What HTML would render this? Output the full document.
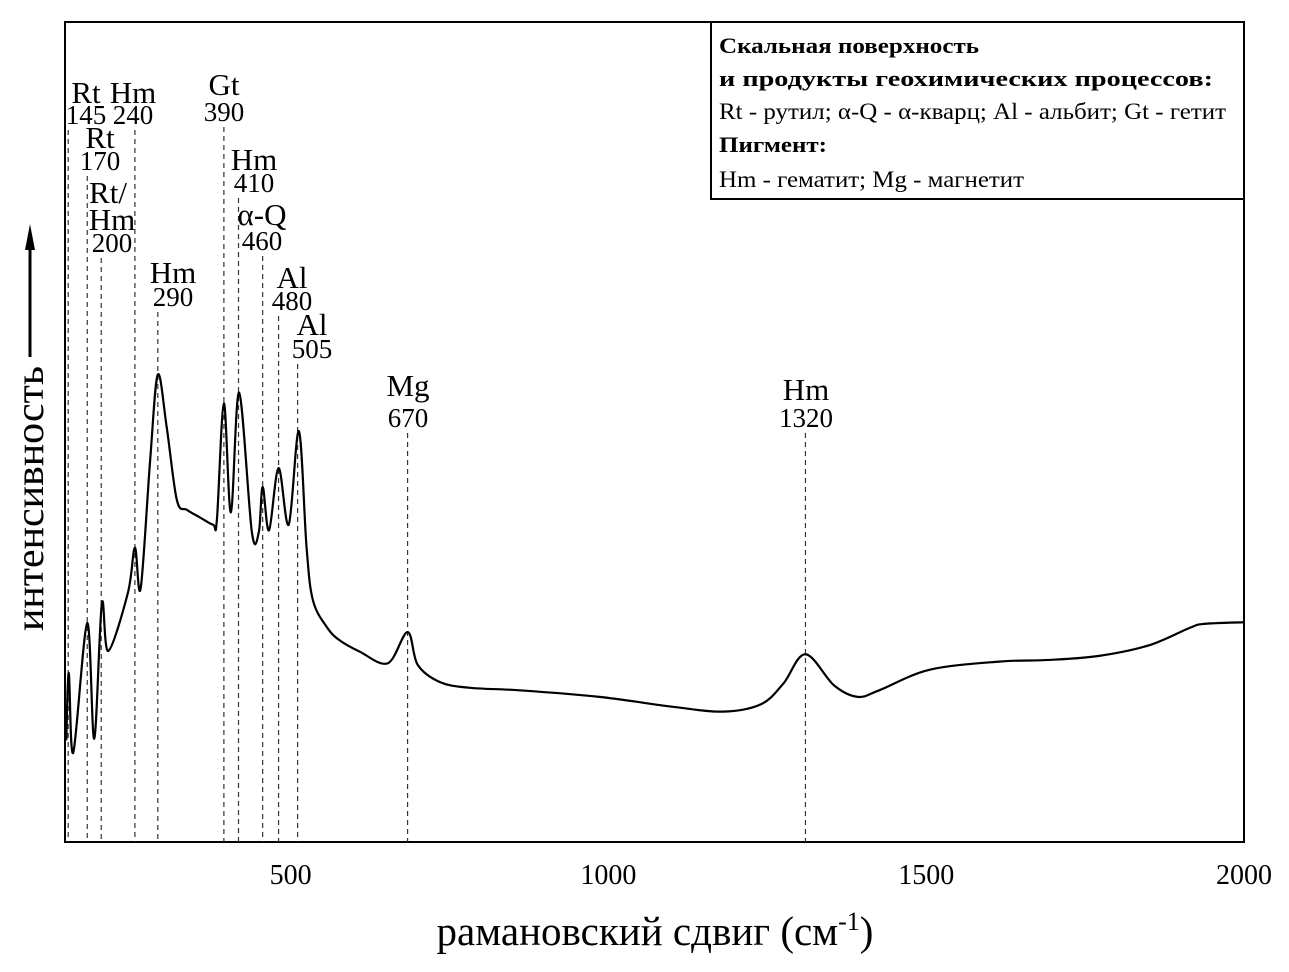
<!DOCTYPE html>
<html><head><meta charset="utf-8"><style>
body{margin:0;background:#fff}
svg{display:block;font-family:"Liberation Serif",serif}
</style></head><body>
<svg id="c" width="1289" height="972" viewBox="0 0 1289 972">
<rect x="65" y="22" width="1179" height="820" fill="none" stroke="#000" stroke-width="2"/>
<g id="ticks"></g>
<g id="guides"></g>
<path id="spec" fill="none" stroke="#000" stroke-width="2.2"/>
<g>
<rect x="711" y="22" width="533" height="177" fill="#fff" stroke="#000" stroke-width="2"/>
<text x="719" y="53" font-size="22" font-weight="bold" textLength="260" lengthAdjust="spacingAndGlyphs">Скальная поверхность</text>
<text x="719" y="86" font-size="22" font-weight="bold" textLength="494" lengthAdjust="spacingAndGlyphs">и продукты геохимических процессов:</text>
<text x="719" y="119" font-size="23" textLength="507" lengthAdjust="spacingAndGlyphs">Rt - рутил; α-Q - α-кварц; Al - альбит; Gt - гетит</text>
<text x="719" y="152" font-size="22" font-weight="bold" textLength="108" lengthAdjust="spacingAndGlyphs">Пигмент:</text>
<text x="719" y="187" font-size="23" textLength="305" lengthAdjust="spacingAndGlyphs">Hm - гематит; Mg - магнетит</text>
</g>
<text x="655" y="945" font-size="41" text-anchor="middle">рамановский сдвиг (см<tspan dy="-15" font-size="26">-1</tspan><tspan dy="15">)</tspan></text>
<g>
<text transform="translate(43,631) rotate(-90)" font-size="40" textLength="265" lengthAdjust="spacingAndGlyphs">интенсивность</text>
<line x1="30" y1="357" x2="30" y2="245" stroke="#000" stroke-width="3"/>
<polygon points="30,224 25,250 35,250" fill="#000"/>
</g>
</svg>
<script>
const xTicks=[500,1000,1500,2000];
const specX=[147,151,158,180,191,203,213,244,255,264,279,291,305,321,337,357,378,384,395,406,419,439,450,456,466,481,497,513,525,535,557,577,609,653,684,700,735,782,860,986,1100,1180,1240,1275,1310,1355,1392,1426,1505,1615,1693,1772,1851,1914,1937,2000];
const specY=[12.4,20.6,10.9,26.7,12.6,29.1,23.3,30.4,35.9,30.9,46.6,57.0,50.6,41.7,40.5,39.6,38.7,39.3,53.5,40.2,54.8,37.8,37.8,43.3,38.0,45.6,38.7,50.1,36.0,29.5,26.2,24.6,23.2,21.8,25.6,21.6,19.5,18.8,18.5,17.7,16.5,15.9,16.8,19.3,22.9,19.1,17.7,18.5,21.0,22.0,22.2,22.7,24.0,26.1,26.6,26.8];
const peakPos=[150,180,202,255,291,395,418,456,481,511,684,1310];
const peakName=["Rt","Rt","Hm","Hm","Hm","Gt","Hm","α-Q","Al","Al","Mg","Hm"];
const peakNum=["145","170","200","240","290","390","410","460","480","505","670","1320"];
const X0=145,X1=2000,PL=65,PR=1244,PT=22,PB=842;
const sx=v=>PL+(v-X0)/(X1-X0)*(PR-PL);
const sy=v=>PB-v/100*(PB-PT);
const NS="http://www.w3.org/2000/svg";
const tg=document.getElementById('ticks');
xTicks.forEach(t=>{
 const l=document.createElementNS(NS,'text');
 l.setAttribute('x',sx(t));l.setAttribute('y',884);l.setAttribute('font-size','28');l.setAttribute('text-anchor','middle');
 l.textContent=t;
 
 
 tg.appendChild(l);
});
const lay=[[86,103,124],[100,148,170],[112,230,252],[133,103,124],[173,283,306],[224,95,121],[254,170,192],[262,225,250],[292,288,310],[312,335,358],[408,396,427],[806,400,427]];
const gg=document.getElementById('guides');
peakPos.forEach((p,i)=>{
 const x=sx(p),L=lay[i];
 const ln=document.createElementNS(NS,'line');
 ln.setAttribute('x1',x);ln.setAttribute('x2',x);ln.setAttribute('y1',L[2]+6);ln.setAttribute('y2',PB);
 ln.setAttribute('stroke','#333');ln.setAttribute('stroke-width','1.2');ln.setAttribute('stroke-dasharray','5,4');
 
 
 gg.appendChild(ln);
 const n=document.createElementNS(NS,'text');
 n.setAttribute('x',L[0]);n.setAttribute('y',L[1]);n.setAttribute('font-size','31');n.setAttribute('text-anchor','middle');
 n.textContent=peakName[i];
 
 
 gg.appendChild(n);
 const m=document.createElementNS(NS,'text');
 m.setAttribute('x',L[0]);m.setAttribute('y',L[2]);m.setAttribute('font-size','27');m.setAttribute('text-anchor','middle');
 m.textContent=peakNum[i];
 
 
 gg.appendChild(m);
});
const rt=document.createElementNS(NS,'text');
rt.setAttribute('x',108);rt.setAttribute('y',203);rt.setAttribute('font-size','31');rt.setAttribute('text-anchor','middle');
rt.textContent='Rt/';


gg.appendChild(rt);
const P=specX.map((v,i)=>[sx(v),sy(specY[i])]);
let d=`M${P[0][0]},${P[0][1]}`;
for(let i=0;i<P.length-1;i++){
 const p0=P[i-1]||P[i],p1=P[i],p2=P[i+1],p3=P[i+2]||P[i+1];
 const c1=[p1[0]+(p2[0]-p0[0])/6,p1[1]+(p2[1]-p0[1])/6];
 const c2=[p2[0]-(p3[0]-p1[0])/6,p2[1]-(p3[1]-p1[1])/6];
 d+=`C${c1[0]},${c1[1]} ${c2[0]},${c2[1]} ${p2[0]},${p2[1]}`;
}
document.getElementById('spec').setAttribute('d',d);
</script>
</body></html>
